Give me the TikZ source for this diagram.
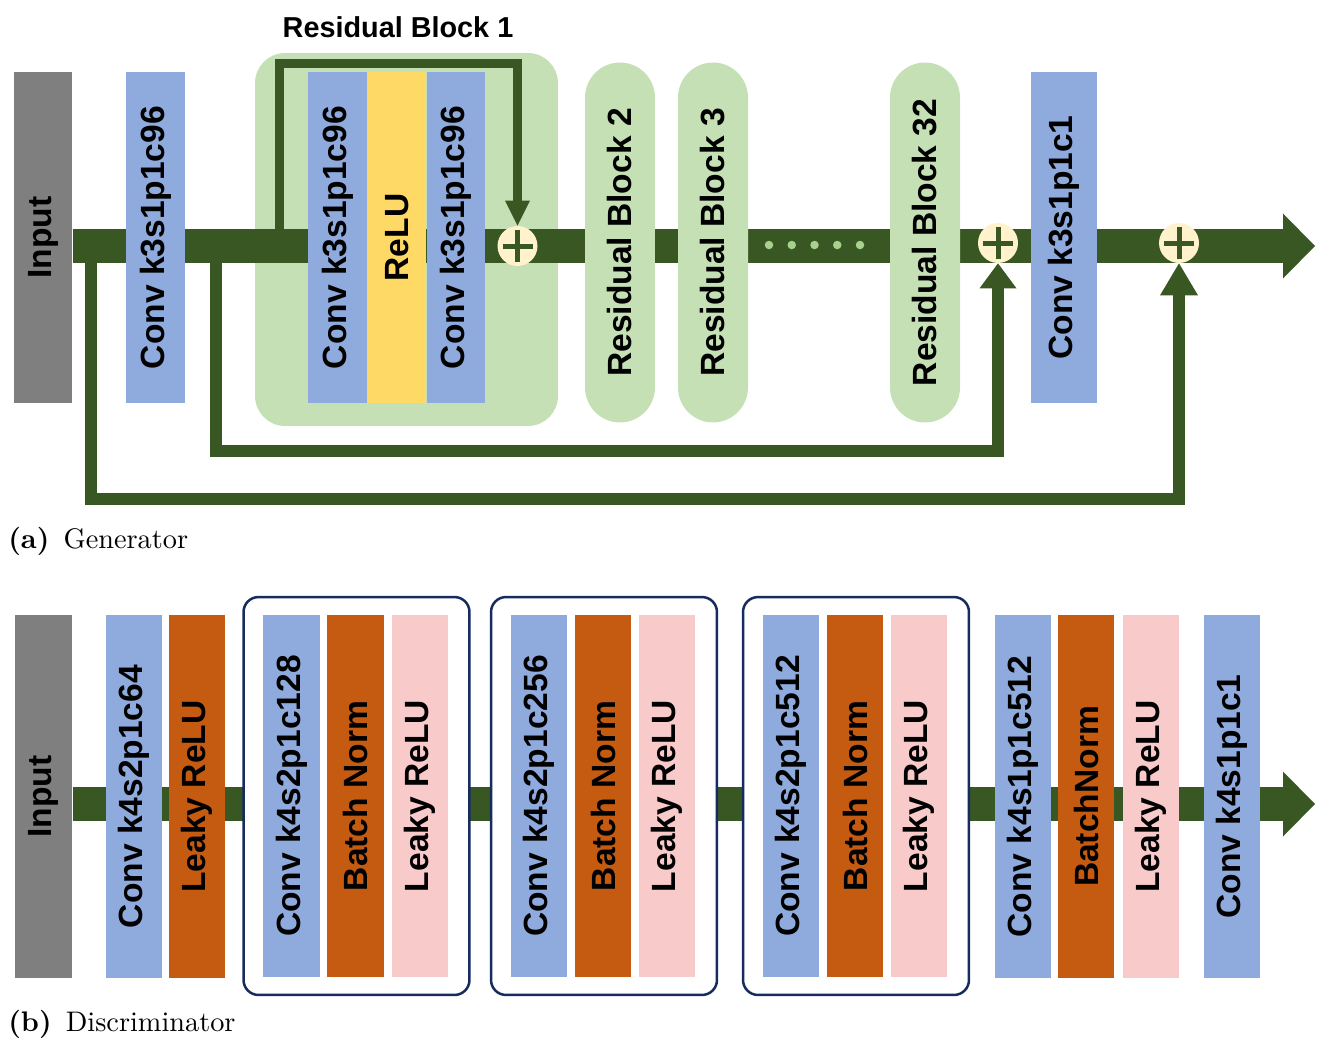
\documentclass[tikz,border=0pt]{standalone}
\usepackage{fontspec}
\usepackage{graphicx}
\newfontfamily\lbsans{Liberation Sans}
\newfontfamily\capserif{lmroman10-regular}[Extension=.otf, BoldFont=lmroman10-bold]
\usepackage{tikz}
\usetikzlibrary{arrows.meta, positioning}
\definecolor{flowgreen}{RGB}{56,87,35}
\definecolor{ingray}{RGB}{127,127,127}
\definecolor{convblue}{RGB}{143,170,220}
\definecolor{resgreen}{RGB}{197,224,180}
\definecolor{dotgreen}{RGB}{169,209,142}
\definecolor{reluyellow}{RGB}{255,217,102}
\definecolor{normorange}{RGB}{197,90,17}
\definecolor{leakypink}{RGB}{249,202,202}
\definecolor{addcream}{RGB}{255,242,204}
\definecolor{framenavy}{RGB}{22,44,94}
\newcommand{\blkfont}{\lbsans\bfseries\fontsize{19.1}{22}\selectfont}
\newcommand{\ttlfont}{\lbsans\bfseries\fontsize{16.4}{19}\selectfont}
\newcommand{\capfont}{\capserif\fontsize{16.1}{20}\selectfont}
\newcommand{\uptext}[1]{\rotatebox{90}{#1}}
\tikzset{
  layerbox/.style={inner sep=0pt, font=\blkfont, text=black},
  gbox/.style={layerbox, minimum width=1.17cm, minimum height=6.62cm},
  dbox/.style={layerbox, minimum width=1.13cm, minimum height=7.26cm},
  inputbox/.style={fill=ingray},
  convbox/.style={fill=convblue},
  relubox/.style={fill=reluyellow},
  normbox/.style={fill=normorange},
  leakybox/.style={fill=leakypink},
  resframe/.style={fill=resgreen, rounded corners=0.6cm,
    minimum width=6.06cm, minimum height=7.46cm},
  respill/.style={layerbox, fill=resgreen, rounded corners=0.7cm,
    minimum width=1.4cm, minimum height=7.2cm},
  grpframe/.style={draw=framenavy, line width=0.05cm, fill=white,
    rounded corners=0.3cm, minimum width=4.52cm, minimum height=7.96cm},
  addnode/.style={circle, fill=addcream, minimum size=0.8cm, inner sep=0pt,
    path picture={\draw[flowgreen, line width=0.1cm]
      ([xshift=-0.3cm]path picture bounding box.center) --
      ([xshift=0.3cm]path picture bounding box.center)
      ([yshift=-0.32cm]path picture bounding box.center) --
      ([yshift=0.32cm]path picture bounding box.center);}},
  band/.style={line width=0.68cm, flowgreen,
    -{Triangle[width=1.3cm, length=0.64cm, line width=0pt]}},
  innerskip/.style={line width=0.18cm, flowgreen,
    -{Triangle[width=0.5cm, length=0.5cm, line width=0pt]}},
  outerskip/.style={line width=0.24cm, flowgreen,
    -{Triangle[width=0.74cm, length=0.5cm, line width=0pt]}},
  ttl/.style={font=\ttlfont, inner sep=0pt},
  subcap/.style={font=\capfont, inner sep=0pt, anchor=base west}
}
\begin{document}
\begin{tikzpicture}[x=0.02cm, y=-0.02cm]
  \useasboundingbox (0,0) rectangle (1319,1038);

  % Generator
  \node[gbox, inputbox] (gin) at (43,237.5) {\uptext{Input}};
  \node[resframe] (rb1) at (406.5,239.5) {};
  \node[ttl, above=0.3cm of rb1, xshift=-0.17cm] (rb1title) {Residual Block 1};
  \coordinate (gtip) at (1315,246);
  \draw[band] (gin.east |- gtip) -- (gtip);
  \node[gbox, convbox] (gconv1) at (155.5,237.5) {\uptext{Conv k3s1p1c96}};
  \node[gbox, convbox] (rconva) at (337.5,237.5) {\uptext{Conv k3s1p1c96}};
  \node[gbox, relubox, right=0pt of rconva] (relu) {\uptext{ReLU}};
  \node[gbox, convbox, right=0pt of relu] (rconvb) {\uptext{Conv k3s1p1c96}};
  \node[addnode] (add1) at (517.5,246) {};
  \node[respill] (rb2) at (620,242.5) {\uptext{Residual Block 2}};
  \node[respill] (rb3) at (713,242.5) {\uptext{Residual Block 3}};
  \foreach \k in {0,...,4}
    \fill[dotgreen] (769+22.75*\k,245) circle (0.085cm);
  \node[respill] (rb32) at (925,242.5) {\uptext{Residual Block 32}};
  \node[addnode] (add2) at (998,243) {};
  \node[gbox, convbox, minimum width=1.32cm] (gconv2) at (1064,237.5) {\uptext{Conv k3s1p1c1}};
  \node[addnode] (add3) at (1179,243) {};

  % Skip connections
  \coordinate (sk1) at (279,246);
  \coordinate (sk1top) at (279,63);
  \draw[innerskip] (sk1) -- (sk1top) -| (add1.north);
  \coordinate (sk2) at (216,246);
  \coordinate (sk2bot) at (216,451);
  \draw[outerskip] (sk2) -- (sk2bot) -| (add2.south);
  \coordinate (sk3) at (91,246);
  \coordinate (sk3bot) at (91,499);
  \draw[outerskip, -{Triangle[width=0.76cm, length=0.64cm, line width=0pt]}]
    (sk3) -- (sk3bot) -| (add3.south);

  \node[subcap] (capa) at (8,548) {\textbf{(a)}\hspace{0.5em}Generator};

  % Discriminator
  \node[dbox, inputbox, minimum width=1.16cm] (din) at (43.5,796.5) {\uptext{Input}};
  \coordinate (dtip) at (1315,804);
  \draw[band] (din.east |- dtip) -- (dtip);
  \node[dbox, convbox] (dconv1) at (134,796.5) {\uptext{Conv k4s2p1c64}};
  \node[dbox, normbox, right=0.12cm of dconv1] (dleaky1) {\uptext{Leaky ReLU}};

  \node[grpframe] (grp1) at (356.5,796) {};
  \node[dbox, convbox, right=0.41cm of grp1.west] (dconv2) {\uptext{Conv k4s2p1c128}};
  \node[dbox, normbox, right=0.14cm of dconv2] (dnorm2) {\uptext{Batch Norm}};
  \node[dbox, leakybox, right=0.14cm of dnorm2] (dleaky2) {\uptext{Leaky ReLU}};

  \node[grpframe] (grp2) at (604,796) {};
  \node[dbox, convbox, right=0.41cm of grp2.west] (dconv3) {\uptext{Conv k4s2p1c256}};
  \node[dbox, normbox, right=0.14cm of dconv3] (dnorm3) {\uptext{Batch Norm}};
  \node[dbox, leakybox, right=0.14cm of dnorm3] (dleaky3) {\uptext{Leaky ReLU}};

  \node[grpframe] (grp3) at (856,796) {};
  \node[dbox, convbox, right=0.41cm of grp3.west] (dconv4) {\uptext{Conv k4s2p1c512}};
  \node[dbox, normbox, right=0.14cm of dconv4] (dnorm4) {\uptext{Batch Norm}};
  \node[dbox, leakybox, right=0.14cm of dnorm4] (dleaky4) {\uptext{Leaky ReLU}};

  \node[dbox, convbox] (dconv5) at (1023,796.5) {\uptext{Conv k4s1p1c512}};
  \node[dbox, normbox, right=0.12cm of dconv5] (dnorm5) {\uptext{BatchNorm}};
  \node[dbox, leakybox, right=0.15cm of dnorm5] (dleaky5) {\uptext{Leaky ReLU}};
  \node[dbox, convbox] (dconv6) at (1232,796.5) {\uptext{Conv k4s1p1c1}};

  \node[subcap] (capb) at (8,1031) {\textbf{(b)}\hspace{0.5em}Discriminator};
\end{tikzpicture}
\end{document}
